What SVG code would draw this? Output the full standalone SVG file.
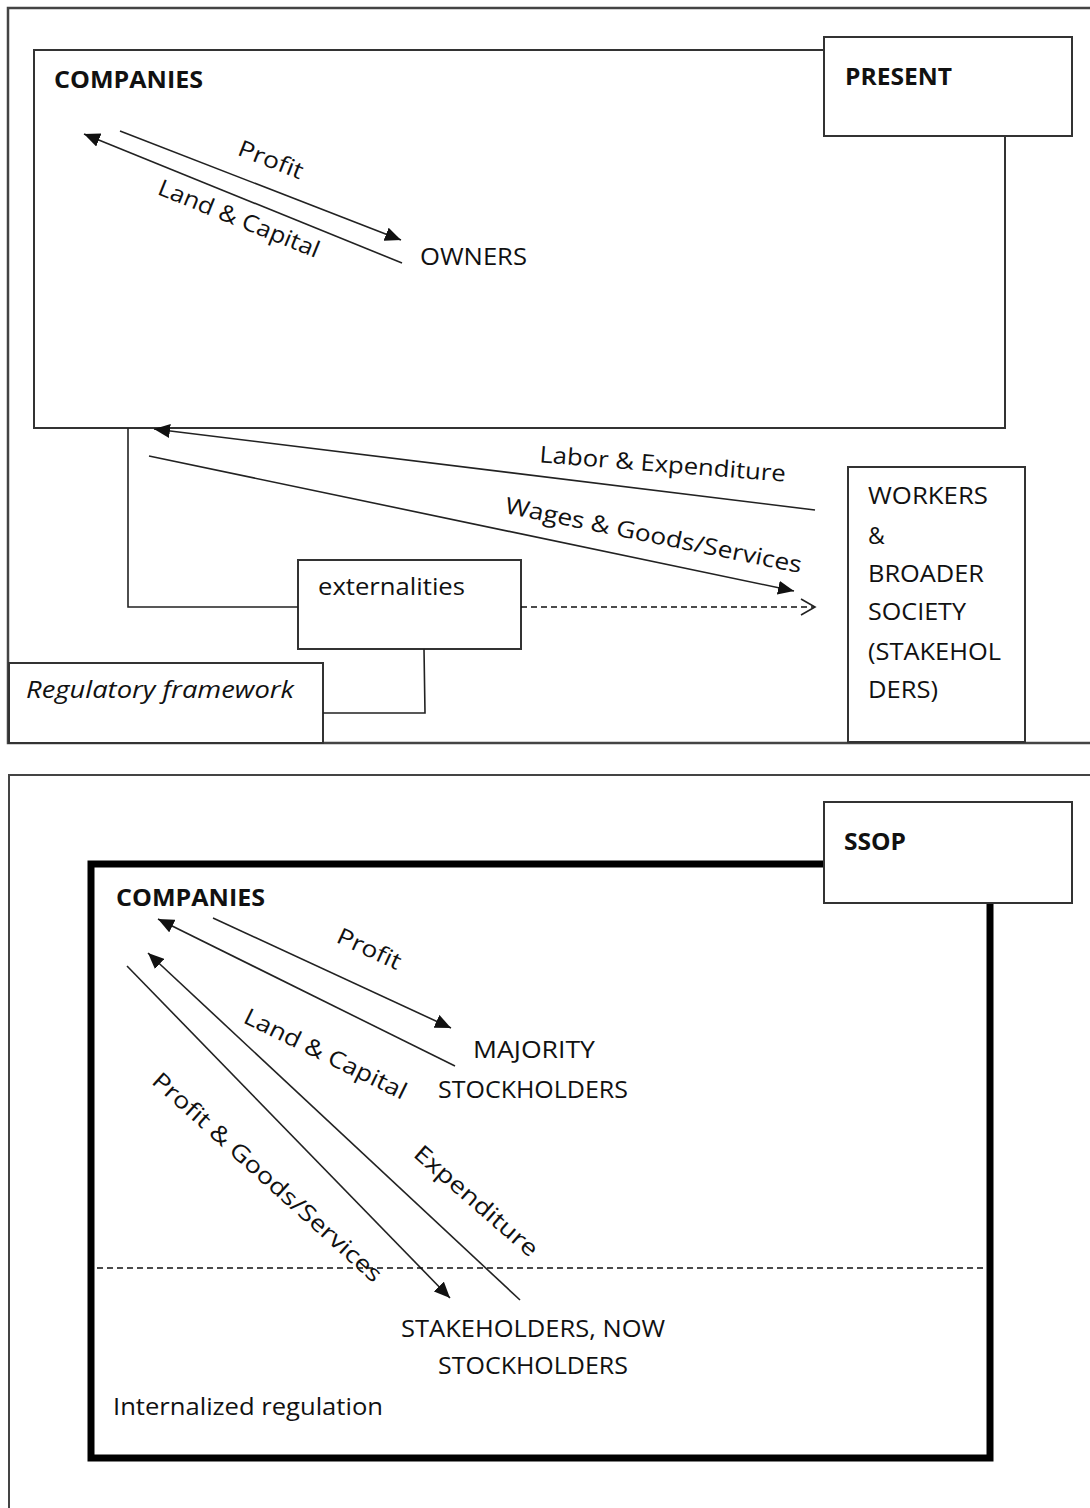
<svg xmlns="http://www.w3.org/2000/svg" width="1090" height="1508" viewBox="0 0 1090 1508">
<style>
text{font-family:"Open Sans","Liberation Sans",Arial,sans-serif;font-size:23px;fill:#111}
.b{font-weight:bold}
.i{font-style:italic}
.box{fill:#fff;stroke:#333;stroke-width:2}
.frame{fill:none;stroke:#444;stroke-width:2.5}
.ln{fill:none;stroke:#222;stroke-width:1.6}
.arr{fill:none;stroke:#222;stroke-width:1.6;marker-end:url(#ah)}
.dash{fill:none;stroke:#111;stroke-width:1.5;stroke-dasharray:6 4}
</style>
<defs>
<marker id="ah" markerUnits="userSpaceOnUse" markerWidth="18" markerHeight="14" refX="16" refY="7" orient="auto">
<path d="M0,0 L16,7 L0,14 Z" fill="#111"/>
</marker>
<marker id="oh" markerUnits="userSpaceOnUse" markerWidth="18" markerHeight="18" refX="16" refY="9" orient="auto">
<path d="M2,1 L16,9 L2,17" fill="none" stroke="#222" stroke-width="1.6"/>
</marker>
</defs>
<rect width="1090" height="1508" fill="#fff"/>

<!-- PRESENT section -->
<g id="present-frame"><path class="frame" d="M1095,8 L8,8 L8,743 L1095,743"/></g>
<g id="companies-top"><rect class="box" x="34" y="50" width="971" height="378"/>
<text class="b" x="54" y="88" textLength="149" lengthAdjust="spacingAndGlyphs">COMPANIES</text></g>
<g id="present-label"><rect class="box" x="824" y="37" width="248" height="99"/>
<text class="b" x="845" y="85" textLength="107" lengthAdjust="spacingAndGlyphs">PRESENT</text></g>
<g id="owners"><text x="420" y="265" textLength="107" lengthAdjust="spacingAndGlyphs">OWNERS</text></g>
<g id="externalities"><rect class="box" x="298" y="560" width="223" height="89"/>
<text x="318" y="595" textLength="147" lengthAdjust="spacingAndGlyphs">externalities</text></g>
<g id="regulatory"><rect class="box" x="9" y="663" width="314" height="80"/>
<text class="i" x="26" y="698" textLength="268" lengthAdjust="spacingAndGlyphs">Regulatory framework</text></g>
<g id="workers"><rect class="box" x="848" y="467" width="177" height="275"/>
<text x="868" y="504" textLength="120" lengthAdjust="spacingAndGlyphs">WORKERS</text>
<text x="868" y="544">&amp;</text>
<text x="868" y="582" textLength="116" lengthAdjust="spacingAndGlyphs">BROADER</text>
<text x="868" y="620" textLength="98" lengthAdjust="spacingAndGlyphs">SOCIETY</text>
<text x="868" y="660" textLength="133" lengthAdjust="spacingAndGlyphs">(STAKEHOL</text>
<text x="868" y="698" textLength="70" lengthAdjust="spacingAndGlyphs">DERS)</text></g>

<!-- SSOP section -->
<g id="ssop-frame"><path class="frame" d="M1095,775 L9,775 L9,1510" style="stroke-width:2"/></g>
<g id="companies-bottom"><rect x="91" y="864" width="899" height="594" fill="#fff" stroke="#000" stroke-width="7"/>
<text class="b" x="116" y="906" textLength="149" lengthAdjust="spacingAndGlyphs">COMPANIES</text></g>
<g id="ssop-label"><rect class="box" x="824" y="802" width="248" height="101"/>
<text class="b" x="844" y="850" textLength="62" lengthAdjust="spacingAndGlyphs">SSOP</text></g>
<g id="majority"><text x="473" y="1058" textLength="122" lengthAdjust="spacingAndGlyphs">MAJORITY</text>
<text x="438" y="1098" textLength="190" lengthAdjust="spacingAndGlyphs">STOCKHOLDERS</text></g>
<g id="stakeholders"><text x="401" y="1337" textLength="264" lengthAdjust="spacingAndGlyphs">STAKEHOLDERS, NOW</text>
<text x="438" y="1374" textLength="190" lengthAdjust="spacingAndGlyphs">STOCKHOLDERS</text></g>
<g id="internalized"><text x="113" y="1415" textLength="270" lengthAdjust="spacingAndGlyphs">Internalized regulation</text></g>

<g id="connectors">
<line class="arr" x1="120" y1="131" x2="401" y2="240"/>
<line class="arr" x1="402" y1="263" x2="84" y2="134"/>
<line class="arr" x1="815" y1="510" x2="154" y2="429"/>
<line class="arr" x1="149" y1="456" x2="794" y2="591"/>
<polyline class="ln" points="128,428 128,607 298,607"/>
<line class="dash" x1="521" y1="607" x2="815" y2="607" marker-end="url(#oh)"/>
<polyline class="ln" points="424,649 425,713 323,713"/>
<line class="arr" x1="213" y1="918" x2="451" y2="1028"/>
<line class="arr" x1="455" y1="1066" x2="158" y2="919"/>
<line class="arr" x1="127" y1="966" x2="450" y2="1298"/>
<line class="arr" x1="520" y1="1300" x2="148" y2="953"/>
<line class="dash" x1="97" y1="1268" x2="986" y2="1268"/>
</g>

<g id="labels">
<text text-anchor="middle" transform="translate(268,167) rotate(21.5)" textLength="68" lengthAdjust="spacingAndGlyphs">Profit</text>
<text text-anchor="middle" transform="translate(236,226) rotate(22)" textLength="172" lengthAdjust="spacingAndGlyphs">Land &amp; Capital</text>
<text text-anchor="middle" transform="translate(662,472) rotate(4.5)" textLength="247" lengthAdjust="spacingAndGlyphs">Labor &amp; Expenditure</text>
<text text-anchor="middle" transform="translate(652,543) rotate(11.5)" textLength="302" lengthAdjust="spacingAndGlyphs">Wages &amp; Goods/Services</text>
<text text-anchor="middle" transform="translate(366,956) rotate(24.7)" textLength="68" lengthAdjust="spacingAndGlyphs">Profit</text>
<text text-anchor="middle" transform="translate(322,1061) rotate(26)" textLength="178" lengthAdjust="spacingAndGlyphs">Land &amp; Capital</text>
<text text-anchor="middle" transform="translate(262,1183) rotate(42)" textLength="300" lengthAdjust="spacingAndGlyphs">Profit &amp; Goods/Services</text>
<text text-anchor="middle" transform="translate(471,1207) rotate(41)" textLength="156" lengthAdjust="spacingAndGlyphs">Expenditure</text>
</g>
</svg>
